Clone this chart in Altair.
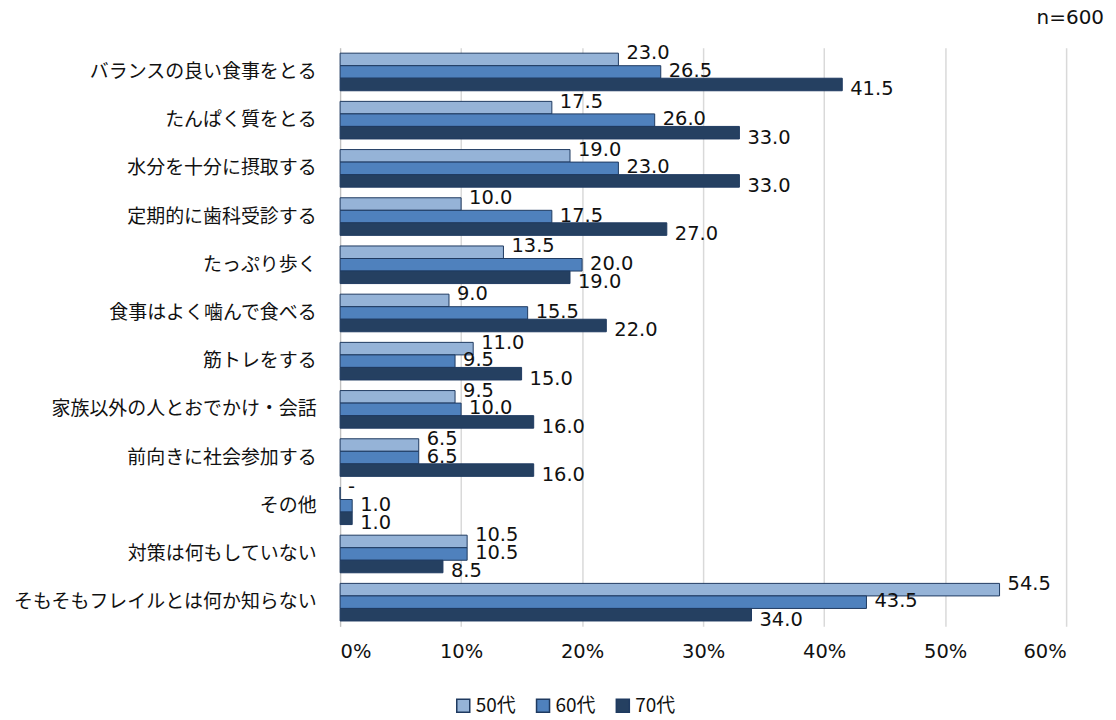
import altair as alt
import pandas as pd

categories = ["バランスの良い食事をとる", "たんぱく質をとる", "水分を十分に摂取する", "定期的に歯科受診する",
              "たっぷり歩く", "食事はよく噛んで食べる", "筋トレをする", "家族以外の人とおでかけ・会話",
              "前向きに社会参加する", "その他", "対策は何もしていない", "そもそもフレイルとは何か知らない"]
series = ["50代", "60代", "70代"]
v50 = [23.0, 17.5, 19.0, 10.0, 13.5, 9.0, 11.0, 9.5, 6.5, 0.0, 10.5, 54.5]
v60 = [26.5, 26.0, 23.0, 17.5, 20.0, 15.5, 9.5, 10.0, 6.5, 1.0, 10.5, 43.5]
v70 = [41.5, 33.0, 33.0, 27.0, 19.0, 22.0, 15.0, 16.0, 16.0, 1.0, 8.5, 34.0]
x_ticks = [0, 10, 20, 30, 40, 50, 60]
colors = ["#95B3D7", "#4F81BD", "#254061"]

rows = []
for s, vals in zip(series, [v50, v60, v70]):
    for c, v in zip(categories, vals):
        rows.append({"cat": c, "series": s, "v": v})
df = pd.DataFrame(rows)

JP = "Noto Sans CJK JP"
NUM = "DejaVu Sans"

base = alt.Chart(df).transform_calculate(
    label="datum.v == 0 ? '-' : format(datum.v, '.1f')"
)

y_enc = alt.Y("cat:N", sort=categories, title=None,
              scale=alt.Scale(paddingInner=0.22, paddingOuter=0.11),
              axis=alt.Axis(labelFont=JP, labelFontSize=19, labelColor="#111111",
                            ticks=False, labelPadding=24, domainColor="#BFBFBF",
                            labelLimit=400))
x_scale = alt.Scale(domain=[0, 60], nice=False)

bars = base.mark_bar(stroke="#1F3A60", strokeWidth=1).encode(
    y=y_enc,
    yOffset=alt.YOffset("series:N", sort=series, scale=alt.Scale(paddingInner=0, paddingOuter=0)),
    x=alt.X("v:Q", scale=x_scale, title=None,
            axis=alt.Axis(values=x_ticks, labelExpr="datum.value + '%'", labelFont=NUM,
                          labelFontSize=19.5, labelColor="#111111", ticks=False, domain=False,
                          gridColor="#D9D9D9", gridWidth=1.5, labelPadding=16)),
    color=alt.Color("series:N", sort=series, scale=alt.Scale(domain=series, range=colors),
                    legend=alt.Legend(title=None, orient="none", legendX=114, legendY=650,
                                      direction="horizontal", symbolType="square", symbolSize=170,
                                      symbolStrokeColor="#1F3A60", symbolStrokeWidth=1.5,
                                      labelFont=JP, labelFontSize=19, labelColor="#111111",
                                      columnPadding=16, labelOffset=3)),
)

dys = {"50代": -6, "60代": -1, "70代": 5}
texts = []
for s in series:
    texts.append(
        base.transform_filter(alt.datum.series == s).mark_text(
            align="left", baseline="middle", dx=8, dy=dys[s], font=NUM, fontSize=19.5, color="#111111"
        ).encode(
            y=alt.Y("cat:N", sort=categories),
            yOffset=alt.YOffset("series:N", sort=series),
            x=alt.X("v:Q", scale=x_scale),
            text="label:N",
        )
    )

note = alt.Chart(pd.DataFrame({"t": ["n=600"]})).mark_text(
    align="right", baseline="middle", font=NUM, fontSize=20, color="#111111"
).encode(x=alt.value(766), y=alt.value(-30), text="t:N")

chart = alt.layer(bars, *texts, note).properties(
    width=728, height=580,
    autosize=alt.AutoSizeParams(type="none"),
    padding={"left": 333, "top": 39, "right": 42, "bottom": 90},
).configure_view(stroke=None)

chart.save("out.html", embed_options={"renderer": "svg", "actions": False})
